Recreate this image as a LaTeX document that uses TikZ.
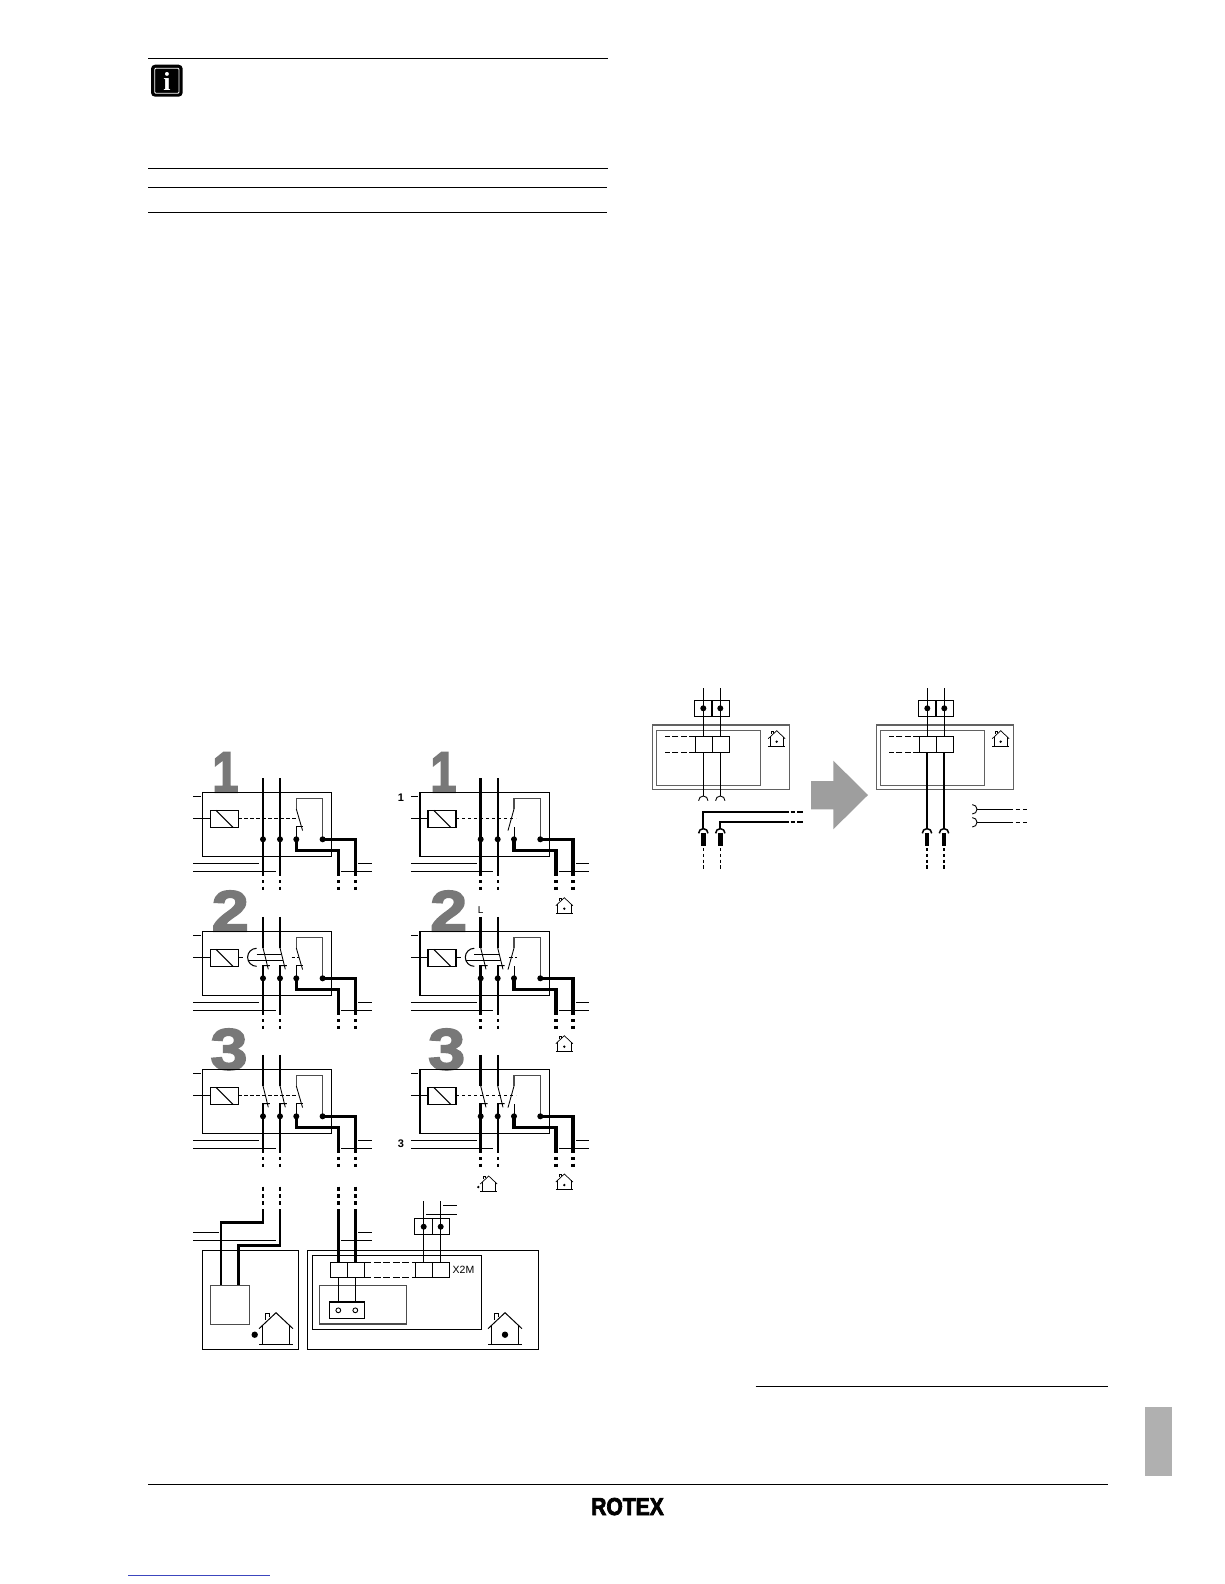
\documentclass[tikz,border=0pt]{standalone}
\usepackage{fontspec}
\setmainfont{Liberation Sans}
\font\bigdigit="Liberation Sans/B:embolden=3;extend=1.15" at 58pt
\font\bigone="Liberation Sans/B:embolden=3;extend=0.8" at 58pt
\font\logofont="Liberation Sans/B:embolden=3;extend=0.86" at 24.5pt
\newfontfamily\serifb{Liberation Serif}
\definecolor{digitgray}{gray}{0.47}
\definecolor{arrowgray}{gray}{0.62}
\definecolor{tabgray}{gray}{0.69}
\definecolor{linkblue}{RGB}{60,70,190}
\tikzset{
  x=1pt,y=-1pt,
  thin line/.style={line width=0.9pt,black},
  mid line/.style={line width=1.05pt,black},
  grey line/.style={line width=1.1pt,black!70},
  blade/.style={line width=0.85pt,black},
  hot wire/.style={line width=3.2pt,black,line join=miter},
  feed wire/.style={line width=2.7pt,black,line join=miter},
  thin dash/.style={line width=0.9pt,black,dash pattern=on 3.4pt off 2.6pt},
  term dot/.style={fill=black,draw=none},
  rule line/.style={line width=0.9pt,black},
  bigdig/.style={inner sep=0pt,anchor=base,text=digitgray},
  lab/.style={inner sep=0pt,font=\fontsize{10.5}{12}\selectfont},
}
% small house: origin at the roof peak
\newcommand{\housepic}[4]{% x, y, scale, line width
  \begin{scope}[shift={(#1,#2)},scale=#3,line width=#4pt,line join=miter]
    \draw (-8.5,8) -- (0,0) -- (8.5,8);
    \draw (-6.8,6.4) -- (-6.8,15.7) (6.8,6.4) -- (6.8,15.7) (-8.5,15.7) -- (8.5,15.7);
    \draw (-5.3,3.4) -- (-5.3,0.4) -- (-3.3,0.4) -- (-3.3,2.2);
  \end{scope}}
\newcommand{\lowdash}[3]{%
  \draw[line width=#2pt] (#1,87.7) -- (#1,91) (#1,94.3) -- (#1,98);}
% switching panel: x, y, column (1/2), kind (1/2/3), feed widths
\newcommand{\swpanel}[6]{%
\begin{scope}[shift={(#1,#2)}]
  \draw[mid line] (0,0) rectangle (129.4,64);
  \draw[mid line] (-9,4) -- (-1.7,4) (-9,26) -- (8,26);
  \draw[mid line] (8,18) rectangle (36,35.3);
  \draw[mid line] (13.7,18) -- (31,35.3);
  \draw[thin line] (-9,71) -- (56.7,71) (156,71) -- (169.3,71)
                   (-9,79) -- (73.3,79) (139,79) -- (169.3,79);
  % main poles
  \ifnum#4=1
    \draw[line width=#5pt] (60.7,-14) -- (60.7,83.3);
    \draw[line width=#6pt] (77.7,-14) -- (77.7,83.3);
    \draw[thin dash] (36,26) -- (96,26);
  \else
    \draw[line width=#5pt] (60.7,-14.5) -- (60.7,16.5) (60.7,34) -- (60.7,83.3);
    \draw[line width=#6pt] (77.7,-14.5) -- (77.7,16.5) (77.7,34) -- (77.7,83.3);
    \draw[blade] (60.7,16.5) -- (66,38) (60.7,34.3) -- (67.5,34.3);
    \draw[blade] (77.7,16.5) -- (83,38) (77.7,34.3) -- (84.5,34.3);
    \ifnum#4=2
      \draw[mid line] (36,26) -- (41,26) (89.3,26) -- (92.7,26) (95,26) -- (97,26);
      \draw[mid line] (54.3,17) arc[start angle=-90,end angle=-270,radius=9];
      \draw[thin line] (54.3,23) -- (79,23) (45.5,28.7) -- (81,28.7);
    \else
      \draw[thin dash] (36,26) -- (96,26);
    \fi
  \fi
  % relay contact
  \draw[grey line] (94,16.7) -- (94,6) -- (120.3,6) -- (120.3,47);
  \ifnum#3=1
    \draw[blade] (94,16.7) -- (100.3,38.3);
    \draw[blade] (94,47) -- (94,34.5) -- (101,34.5);
  \else
    \draw[blade] (94,16.7) -- (88,38.3);
    \draw[blade] (94,47) -- (94,35);
  \fi
  % hot wires
  \draw[hot wire] (94,47) -- (94,58) -- (136,58) -- (136,83.3);
  \draw[hot wire] (120.3,47) -- (153,47) -- (153,83.3);
  \foreach \p in {60.7,77.7,94,120.3} \fill[term dot] (\p,47) circle (3);
  \lowdash{60.7}{#5}{}
  \lowdash{77.7}{#6}{}
  \lowdash{136}{3.2}{}
  \lowdash{153}{3.2}{}
\end{scope}}
\newcommand{\topunit}[1]{% outer x
  \begin{scope}[shift={(#1,0)}]
    \draw[line width=1.4pt,black!62] (0,725) rectangle (137,789.3);
    \draw[line width=1.4pt,black!62] (4.4,730.3) rectangle (108.4,785.3);
    \draw[mid line] (42,700.3) rectangle (77.4,716.3) (59.7,700.3) -- (59.7,716.3);
    \draw[mid line] (43,736.3) rectangle (77.4,752.3) (60,736.3) -- (60,752.3);
    \draw[thin line,dash pattern=on 6pt off 2.5pt] (43,736.3) -- (13,736.3) (43,752.3) -- (13,752.3);
    \draw[thin line] (51,688.3) -- (51,736.3) (68,688.3) -- (68,736.3);
    \fill[term dot] (51,708.3) circle (3) (68,708.3) circle (3);
    \housepic{124.4}{730.7}{1}{0.7}
    \fill (124.4,741.7) circle (1.3);
  \end{scope}}
\newcommand{\plugpic}[3]{% x, arc width, tail width
  \draw[line width=#2pt] (#1-4.7,833.3) arc[start angle=180,end angle=360,radius=4.7];
  \fill (#1-2.2,833.3) rectangle (#1+2.2,845.7);
  \draw[line width=#3pt,dash pattern=on 3.4pt off 2.4pt] (#1,848) -- (#1,870);}
\begin{document}
\begin{tikzpicture}
\useasboundingbox (0,0) rectangle (1224,1584);
\fill[white] (0,0) rectangle (1224,1584);
% page furniture
\draw[rule line] (148,58.3) -- (608,58.3) (148,168.3) -- (608,168.3)
                 (148,187.3) -- (607,187.3) (148,212.7) -- (607,212.7);
\fill[black,rounded corners=4pt] (151,64.7) rectangle (182.7,96.7);
\draw[white,line width=0.9pt,rounded corners=1pt] (154.7,68.3) rectangle (179,93.3);
\node[inner sep=0pt,text=white] (infoi) at (167,81) {\fontsize{26}{26}\selectfont\serifb\bfseries i};
\draw[rule line] (755.5,1386.7) -- (1107.7,1386.7) (148,1484.3) -- (1107.7,1484.3);
\fill[tabgray] (1145,1406.7) rectangle (1172,1476);
\node[inner sep=0pt,anchor=base] (logo) at (627.5,1515) {\logofont ROTEX};
\draw[linkblue,line width=0.9pt] (128.3,1575) -- (269.7,1575);
% big digits
\node[bigdig] (d1a) at (225.5,792.3) {\bigone 1};
\node[bigdig] (d1b) at (443.5,792.3) {\bigone 1};
\node[bigdig] (d2a) at (230.3,931.3) {\bigdigit 2};
\node[bigdig] (d2b) at (448.7,931.3) {\bigdigit 2};
\node[bigdig] (d3a) at (229,1069.3) {\bigdigit 3};
\node[bigdig] (d3b) at (446.7,1069.3) {\bigdigit 3};
% switching panels
\swpanel{202.3}{792.3}{1}{1}{1.9}{1.8}
\swpanel{420}{792.3}{2}{1}{3}{2.3}
\swpanel{202.3}{931.3}{1}{2}{1.9}{1.8}
\swpanel{420}{931.3}{2}{2}{3}{2.3}
\swpanel{202.3}{1069.3}{1}{3}{1.9}{1.8}
\swpanel{420}{1069.3}{2}{3}{3}{2.3}
% labels and small houses
\node[lab,font=\fontsize{11}{12}\selectfont\bfseries] (n1) at (401,797.7) {1};
\node[lab,font=\fontsize{11}{12}\selectfont\bfseries] (n3) at (401,1144) {3};
\node[lab,font=\fontsize{10}{12}\selectfont] (nL) at (480.7,910) {L};
\housepic{564.3}{897.7}{1}{0.7} \fill (564.3,908.7) circle (1.3);
\housepic{564.3}{1035.7}{1}{0.7} \fill (564.3,1046.7) circle (1.3);
\housepic{564.3}{1174}{1}{0.7} \fill (564.3,1185) circle (1.3);
\housepic{488.7}{1176}{1}{0.7} \fill (478.3,1187) circle (1.3);
% lower units
\draw[mid line] (202.7,1250.3) rectangle (298.3,1349.3);
\draw[mid line] (307.3,1250.3) rectangle (538.3,1349.3);
\draw[mid line] (312.7,1255.3) rectangle (481.7,1329.3);
\draw[thin line] (193.3,1232.3) -- (219,1232.3) (193.3,1240.3) -- (276,1240.3);
\draw[thin line] (358.3,1232.3) -- (372,1232.3) (341,1240.3) -- (372,1240.3);
% left unit
\foreach \p in {263,280}
  \draw[line width=1.9pt] (\p,1186.7) -- (\p,1190.7) (\p,1194) -- (\p,1198.3) (\p,1201) -- (\p,1205);
\draw[feed wire] (263,1209.3) -- (263,1222.7) -- (221,1222.7) -- (221,1285.3);
\draw[feed wire] (280,1209.3) -- (280,1245.7) -- (238.3,1245.7) -- (238.3,1285.3);
\draw[grey line] (210.3,1285.3) rectangle (249.3,1324.3);
\housepic{276}{1312.7}{2}{1}
\fill (254.7,1334.7) circle (3.2);
% right unit
\foreach \p in {338.3,355.3}
  \draw[hot wire] (\p,1186.7) -- (\p,1190.7) (\p,1194) -- (\p,1198.3) (\p,1201) -- (\p,1205);
\draw[hot wire] (338.3,1209.3) -- (338.3,1262.3);
\draw[hot wire] (355.3,1209.3) -- (355.3,1262.3);
\draw[mid line] (330.3,1262.3) rectangle (364.3,1277.3) (347.3,1262.3) -- (347.3,1277.3);
\draw[mid line] (415.7,1262.3) rectangle (449.7,1277.3) (432.7,1262.3) -- (432.7,1277.3);
\draw[thin line,dash pattern=on 7pt off 2.5pt] (364.3,1262.3) -- (415.7,1262.3) (364.3,1277.3) -- (415.7,1277.3);
\node[lab,anchor=west] (x2m) at (452.5,1269.5) {X2M};
\draw[grey line] (319.3,1285.7) rectangle (406.3,1324);
\draw[mid line] (329.3,1302) rectangle (364.3,1318.3);
\draw[thin line] (338.3,1277.3) -- (338.3,1302) (355.3,1277.3) -- (355.3,1302);
\draw[thin line] (338.3,1310.3) circle (2.4) (355.3,1310.3) circle (2.4);
\draw[mid line] (414.3,1218.7) rectangle (449.7,1234.3) (432.3,1218.7) -- (432.3,1234.3);
\draw[thin line] (423.7,1201) -- (423.7,1262.3) (440.7,1201) -- (440.7,1262.3);
\fill[term dot] (423.7,1226.7) circle (3) (440.7,1226.7) circle (3);
\draw[thin line] (443.3,1205.7) -- (456.7,1205.7) (426,1214) -- (456.7,1214);
\housepic{505}{1312.7}{2}{1}
\fill (505,1334.7) circle (3.2);
% top right units
\topunit{652.3}
\topunit{876.3}
\draw[thin line] (703.3,752.3) -- (703.3,796) (720.3,752.3) -- (720.3,796);
\draw[thin line] (698.6,800.7) arc[start angle=180,end angle=360,radius=4.7];
\draw[thin line] (715.6,800.7) arc[start angle=180,end angle=360,radius=4.7];
\draw[line width=1.7pt,line join=miter] (703.3,829) -- (703.3,811.7) -- (789,811.7);
\draw[line width=1.7pt,line join=miter] (720.3,829) -- (720.3,822) -- (789,822);
\foreach \p in {811.7,822}
  \draw[line width=1.7pt] (790.7,\p) -- (795,\p) (797.3,\p) -- (803,\p);
\plugpic{703.3}{1.5}{0.8}
\plugpic{720.3}{1.5}{0.8}
\fill[arrowgray] (811,781) -- (833.3,781) -- (833.3,760.7) -- (868,795) -- (833.3,829.3) -- (833.3,809.3) -- (811,809.3) -- cycle;
\draw[line width=1.9pt] (927,752.3) -- (927,829) (944,752.3) -- (944,829);
\plugpic{927}{1.5}{1.6}
\plugpic{944}{1.5}{1.6}
\draw[thin line] (972.3,804.6) arc[start angle=-90,end angle=90,radius=4.7];
\draw[thin line] (972.3,817.6) arc[start angle=-90,end angle=90,radius=4.7];
\draw[thin line] (977,809.3) -- (1013.3,809.3) (977,822.3) -- (1013.3,822.3);
\foreach \p in {809.3,822.3}
  \draw[thin line] (1015.7,\p) -- (1020,\p) (1023,\p) -- (1026.7,\p);
\end{tikzpicture}
\end{document}
